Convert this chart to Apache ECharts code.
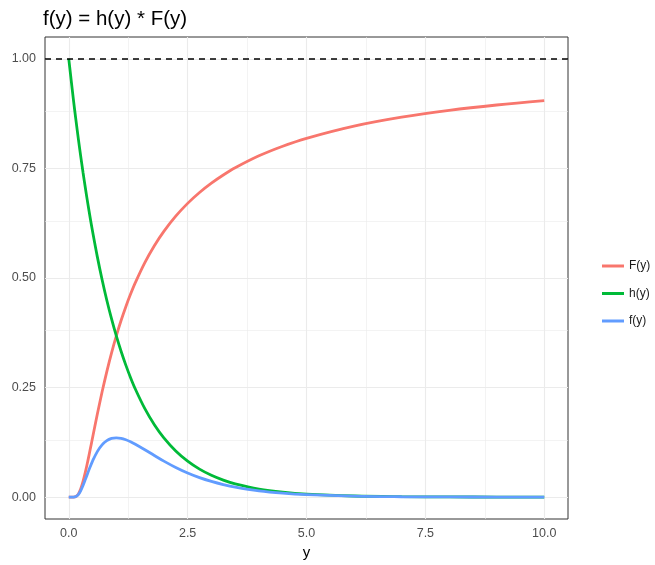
<!DOCTYPE html>
<html>
<head>
<meta charset="utf-8">
<script src="https://cdn.jsdelivr.net/npm/echarts@6/dist/echarts.min.js"></script>
<style>
  html, body { margin: 0; padding: 0; background: #fff; }
  #chart { width: 655px; height: 565px; }
</style>
</head>
<body>
<div id="chart"></div>
<script>
// y values where the curves are sampled
var yGrid = [0, 0.1, 0.15, 0.2, 0.25, 0.3, 0.35, 0.4, 0.45, 0.5, 0.6, 0.7, 0.8, 0.9, 1.0, 1.1, 1.2, 1.3, 1.4, 1.6, 1.8, 2.0, 2.25, 2.5, 2.75, 3.0, 3.25, 3.5, 4.0, 4.5, 5.0, 6.0, 7.0, 8.0, 9.0, 10.0];
// F(y): cumulative curve
var cdfVals = [0, 0.00005, 0.0013, 0.0067, 0.0183, 0.0357, 0.0574, 0.0821, 0.1084, 0.1353, 0.1889, 0.2397, 0.2865, 0.3292, 0.3679, 0.4029, 0.4346, 0.4634, 0.4895, 0.5353, 0.5738, 0.6065, 0.6412, 0.6703, 0.6951, 0.7165, 0.7351, 0.7515, 0.7788, 0.8007, 0.8187, 0.8465, 0.8669, 0.8825, 0.8948, 0.9048];
// h(y): decaying curve
var hazVals = [1.0, 0.9048, 0.8607, 0.8187, 0.7788, 0.7408, 0.7047, 0.6703, 0.6376, 0.6065, 0.5488, 0.4966, 0.4493, 0.4066, 0.3679, 0.3329, 0.3012, 0.2725, 0.2466, 0.2019, 0.1653, 0.1353, 0.1054, 0.0821, 0.0639, 0.0498, 0.0388, 0.0302, 0.0183, 0.0111, 0.0067, 0.0025, 0.0009, 0.0003, 0.0001, 0.00005];
// f(y) = h(y) * F(y)
var denVals = [0, 0.00004, 0.0011, 0.0055, 0.0143, 0.0265, 0.0405, 0.0550, 0.0691, 0.0821, 0.1037, 0.1190, 0.1287, 0.1338, 0.1353, 0.1341, 0.1309, 0.1263, 0.1207, 0.1081, 0.0949, 0.0821, 0.0676, 0.0550, 0.0444, 0.0357, 0.0285, 0.0227, 0.0143, 0.0089, 0.0055, 0.0021, 0.0008, 0.0003, 0.0001, 0.00005];

var seriesNames = ['F(y)', 'h(y)', 'f(y)'];
var seriesColors = ['#F8766D', '#00BA38', '#619CFF'];
var xTicks = [0, 2.5, 5, 7.5, 10];
var xMinor = [1.25, 3.75, 6.25, 8.75];
var yTicks = [0, 0.25, 0.5, 0.75, 1];
var yMinor = [0.125, 0.375, 0.625, 0.875];
var refLevel = 1;

function pairs(vals) {
  return yGrid.map(function (x, i) { return [x, vals[i]]; });
}

var gridLines = [];
xTicks.forEach(function (v) { gridLines.push({ xAxis: v, lineStyle: { width: 1.1 } }); });
xMinor.forEach(function (v) { gridLines.push({ xAxis: v, lineStyle: { width: 0.6 } }); });
yTicks.forEach(function (v) { gridLines.push({ yAxis: v, lineStyle: { width: 1.1 } }); });
yMinor.forEach(function (v) { gridLines.push({ yAxis: v, lineStyle: { width: 0.6 } }); });

var font = 'Liberation Sans, Arial, sans-serif';
var chart = echarts.init(document.getElementById('chart'), null, { renderer: 'canvas' });

var lineSeries = [cdfVals, hazVals, denVals].map(function (vals, i) {
  return {
    name: seriesNames[i],
    type: 'line',
    data: pairs(vals),
    showSymbol: false,
    smooth: 0.35,
    z: 10 + i,
    lineStyle: { color: seriesColors[i], width: 2.8 },
    itemStyle: { color: seriesColors[i] }
  };
});

chart.setOption({
  animation: false,
  backgroundColor: '#ffffff',
  title: {
    text: 'f(y) = h(y) * F(y)',
    left: 38,
    top: 4,
    textStyle: { fontFamily: font, fontSize: 20.5, fontWeight: 'normal', color: '#000' }
  },
  legend: {
    data: seriesNames.map(function (n) { return { name: n, icon: 'rect' }; }),
    orient: 'vertical',
    left: 597,
    top: 255,
    itemWidth: 22,
    itemHeight: 3,
    itemGap: 15.5,
    textStyle: { fontFamily: font, fontSize: 12, color: '#1a1a1a' }
  },
  grid: {
    left: 45, right: 87, top: 37, bottom: 44,
    show: true, borderColor: '#333333', borderWidth: 1, backgroundColor: '#fff'
  },
  xAxis: {
    type: 'value',
    min: -0.5, max: 10.5,
    name: 'y',
    nameLocation: 'middle',
    nameGap: 26,
    nameTextStyle: { fontFamily: font, fontSize: 15, color: '#000' },
    axisLine: { show: false },
    axisTick: { show: true, length: 4, lineStyle: { color: '#333' }, customValues: xTicks },
    axisLabel: {
      fontFamily: font, fontSize: 12.5, color: '#4D4D4D', margin: 8,
      customValues: xTicks,
      formatter: function (v) { return v.toFixed(1); }
    },
    splitLine: { show: false },
    minorSplitLine: { show: false }
  },
  yAxis: {
    type: 'value',
    min: -0.05, max: 1.05,
    axisLine: { show: false },
    axisTick: { show: true, length: 4, lineStyle: { color: '#333' }, customValues: yTicks },
    axisLabel: {
      fontFamily: font, fontSize: 12.5, color: '#4D4D4D', margin: 9,
      padding: [3, 0, 0, 0],
      customValues: yTicks,
      formatter: function (v) { return v.toFixed(2); }
    },
    splitLine: { show: false }
  },
  series: [
    {
      name: 'gridlines',
      type: 'line',
      data: [],
      silent: true,
      z: 1,
      markLine: {
        silent: true,
        z: 1,
        symbol: 'none',
        label: { show: false },
        lineStyle: { color: '#EBEBEB', type: 'solid' },
        data: gridLines
      }
    }
  ].concat(lineSeries).concat([
    {
      name: 'reference',
      type: 'line',
      data: [],
      silent: true,
      z: 20,
      markLine: {
        silent: true,
        z: 20,
        symbol: 'none',
        label: { show: false },
        lineStyle: { color: '#000', type: [6, 5], width: 1.5 },
        data: [{ yAxis: refLevel }]
      }
    }
  ])
});
</script>
</body>
</html>
